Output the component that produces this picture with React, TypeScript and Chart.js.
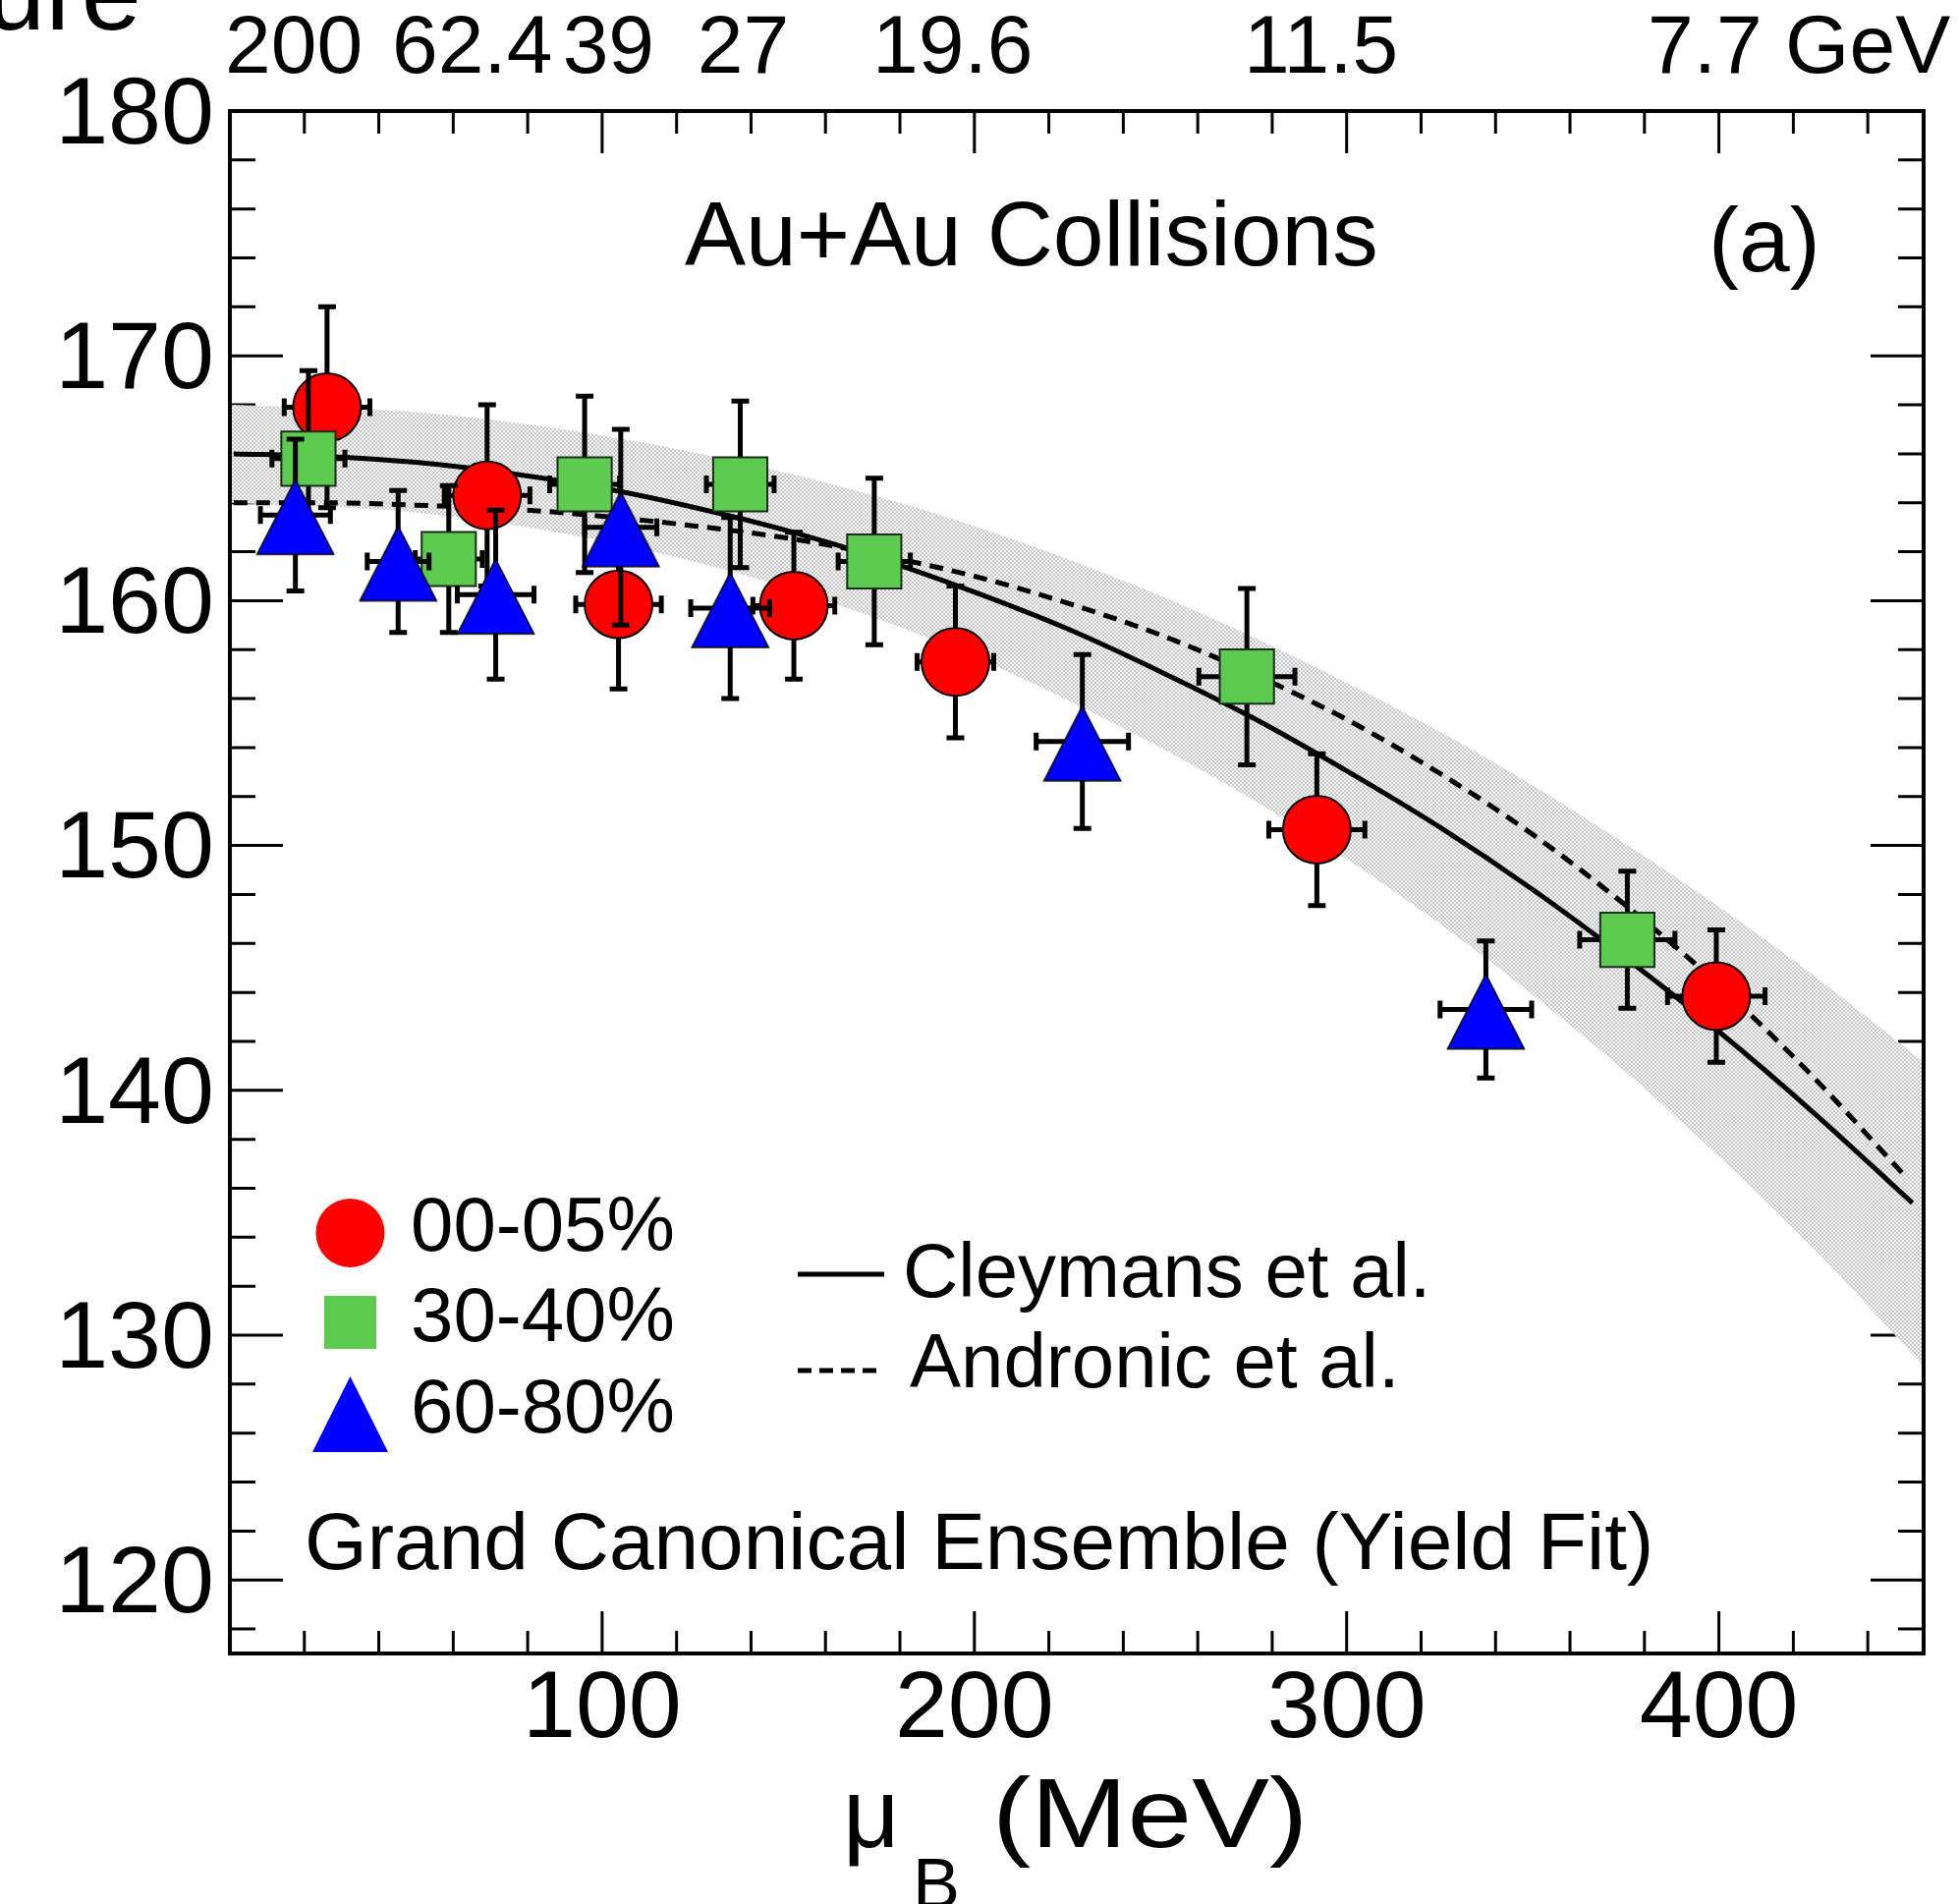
import React, { useEffect, useRef } from "react";
import { Chart, registerables } from "chart.js";

Chart.register(...registerables);

const FONT = "'Liberation Sans', Arial, Helvetica, sans-serif";
const W = 1994;
const H = 1938;

// Axis ranges and ticks
const MU_MIN = 0;
const MU_MAX = 455;
const T_MIN = 117;
const T_MAX = 180;
const muTicks = [100, 200, 300, 400];
const tTicks = [120, 130, 140, 150, 160, 170, 180];
const MU_MINOR_STEP = 20;
const T_MINOR_STEP = 2;

// Collision energies marked along the top axis
const energyMuB = [17.2, 65.1, 101.7, 137.9, 194.2, 293.1, 421.5];
const energyLabels = ["200", "62.4", "39", "27", "19.6", "11.5", "7.7 GeV"];

// Centrality 00-05%
const c0MuB = [26.1, 69.1, 104.4, 151.5, 194.9, 292.0, 399.3];
const c0T = [167.9, 164.3, 159.85, 159.8, 157.5, 150.65, 143.85];
const c0MuBErr = [11.5, 11.5, 11.5, 11.0, 10.3, 12.9, 13.1];
const c0TErr = [4.1, 3.7, 3.45, 3.0, 3.1, 3.1, 2.7];

// Centrality 30-40%
const c30MuB = [21.1, 58.8, 95.3, 137.1, 173.1, 273.2, 375.4];
const c30T = [165.8, 161.7, 164.75, 164.75, 161.6, 156.9, 146.15];
const c30MuBErr = [9.8, 9.0, 9.4, 9.1, 9.7, 12.9, 12.8];
const c30TErr = [3.6, 3.0, 3.6, 3.4, 3.4, 3.6, 2.8];

// Centrality 60-80%
const c60MuB = [17.6, 45.2, 71.4, 105.0, 134.4, 229.0, 337.4];
const c60T = [163.5, 161.6, 160.25, 163.0, 159.7, 154.25, 143.3];
const c60MuBErr = [9.4, 8.3, 10.3, 9.7, 10.6, 12.4, 12.3];
const c60TErr = [3.1, 2.9, 3.45, 4.0, 3.7, 3.55, 2.8];

// Cleymans et al. freeze-out curve
const cleyMuB = [1, 25, 50, 75, 100, 125, 150, 175, 200, 225, 250, 275, 300, 325, 350, 375, 400, 425, 452];
const cleyT = [166.0, 165.9, 165.65, 165.2, 164.6, 163.8, 162.85, 161.7, 160.35, 158.85, 157.1, 155.2, 153.05, 150.75, 148.2, 145.4, 142.4, 139.15, 135.4];

// Andronic et al. freeze-out curve
const andrMuB = [1, 25, 50, 75, 100, 125, 150, 175, 200, 225, 250, 275, 300, 325, 350, 375, 400, 425, 450];
const andrT = [164.0, 164.0, 163.9, 163.75, 163.45, 163.05, 162.55, 161.85, 161.0, 159.9, 158.6, 157.0, 155.15, 152.95, 150.45, 147.55, 144.3, 140.6, 136.5];

// Uncertainty band of the Cleymans curve
const bandMuB = [0, 50, 100, 150, 200, 250, 275, 300, 325, 350, 375, 400, 425, 455];
const bandHigh = [168.0, 167.7, 166.75, 165.2, 163.05, 160.2, 158.5, 156.65, 154.65, 152.45, 150.05, 147.5, 144.75, 141.15];
const bandLow = [164.0, 163.6, 162.45, 160.5, 157.7, 154.0, 151.85, 149.45, 146.8, 143.9, 140.75, 137.3, 133.6, 128.75];

const RED = "#ff0000";
const GREEN = "#5ccb50";
const BLUE = "#0000ff";

const pts = (xs: number[], ys: number[]) => xs.map((x, i) => ({ x, y: ys[i] }));

function makeTriangle(fill: string, stroke: string | null, w: number, up: number, down: number, lw: number) {
  const c = document.createElement("canvas");
  const half = Math.ceil(Math.max(up, down) + lw + 2);
  c.width = Math.ceil(w + 2 * lw + 4);
  c.height = 2 * half;
  const g = c.getContext("2d")!;
  const cx = c.width / 2;
  const cy = half;
  g.beginPath();
  g.moveTo(cx, cy - up);
  g.lineTo(cx + w / 2, cy + down);
  g.lineTo(cx - w / 2, cy + down);
  g.closePath();
  g.fillStyle = fill;
  g.fill();
  if (stroke) {
    g.lineWidth = lw;
    g.strokeStyle = stroke;
    g.lineJoin = "miter";
    g.stroke();
  }
  return c;
}

function makeStipple() {
  const c = document.createElement("canvas");
  c.width = 4;
  c.height = 4;
  const g = c.getContext("2d")!;
  g.fillStyle = "#f5f5f5";
  g.fillRect(0, 0, 4, 4);
  g.fillStyle = "#c9c9c9";
  g.fillRect(0, 0, 2, 2);
  g.fillRect(2, 2, 2, 2);
  return g.createPattern(c, "repeat")!;
}

// Error bars drawn just before each marker set
const errorBars = {
  id: "errorBars",
  beforeDatasetDraw(chart: any, args: any) {
    const ds: any = chart.data.datasets[args.index];
    if (!ds.errX) return;
    const xs = chart.scales.x;
    const ys = chart.scales.y;
    const ctx = chart.ctx;
    const cap = 9;
    ctx.save();
    ctx.strokeStyle = "#000";
    ctx.lineWidth = 5;
    ctx.lineCap = "butt";
    ds.data.forEach((p: any, i: number) => {
      const px = xs.getPixelForValue(p.x);
      const py = ys.getPixelForValue(p.y);
      const x0 = xs.getPixelForValue(p.x - ds.errX[i]);
      const x1 = xs.getPixelForValue(p.x + ds.errX[i]);
      const y0 = ys.getPixelForValue(p.y - ds.errY[i]);
      const y1 = ys.getPixelForValue(p.y + ds.errY[i]);
      ctx.beginPath();
      ctx.moveTo(px, y0);
      ctx.lineTo(px, y1);
      ctx.moveTo(x0, py);
      ctx.lineTo(x1, py);
      ctx.moveTo(px - cap, y0);
      ctx.lineTo(px + cap, y0);
      ctx.moveTo(px - cap, y1);
      ctx.lineTo(px + cap, y1);
      ctx.moveTo(x0, py - cap);
      ctx.lineTo(x0, py + cap);
      ctx.moveTo(x1, py - cap);
      ctx.lineTo(x1, py + cap);
      ctx.stroke();
    });
    ctx.restore();
  },
};

// Inward ticks on all four sides plus the frame
const frame = {
  id: "frame",
  beforeDraw(chart: any) {
    const ctx = chart.ctx;
    ctx.save();
    ctx.fillStyle = "#fff";
    ctx.fillRect(0, 0, chart.width, chart.height);
    ctx.restore();
  },
  beforeDatasetsDraw(chart: any) {
    const { ctx, chartArea: a } = chart;
    const xs = chart.scales.x;
    const ys = chart.scales.y;
    ctx.save();
    ctx.strokeStyle = "#000";
    ctx.lineWidth = 3;
    ctx.beginPath();
    for (let v = MU_MIN + MU_MINOR_STEP; v < MU_MAX; v += MU_MINOR_STEP) {
      const px = xs.getPixelForValue(v);
      const len = v % 100 === 0 ? 43 : 23;
      ctx.moveTo(px, a.bottom);
      ctx.lineTo(px, a.bottom - len);
      ctx.moveTo(px, a.top);
      ctx.lineTo(px, a.top + len);
    }
    for (let v = Math.ceil(T_MIN / T_MINOR_STEP) * T_MINOR_STEP; v < T_MAX; v += T_MINOR_STEP) {
      const py = ys.getPixelForValue(v);
      const len = v % 10 === 0 ? 54 : 26;
      ctx.moveTo(a.left, py);
      ctx.lineTo(a.left + len, py);
      ctx.moveTo(a.right, py);
      ctx.lineTo(a.right - len, py);
    }
    ctx.stroke();
    ctx.restore();
  },
  afterDatasetsDraw(chart: any) {
    const { ctx, chartArea: a } = chart;
    ctx.save();
    ctx.strokeStyle = "#000";
    ctx.lineWidth = 4;
    ctx.strokeRect(a.left, a.top, a.right - a.left, a.bottom - a.top);
    ctx.restore();
  },
};

// Labels, legend and axis title
const annotations = {
  id: "annotations",
  afterDraw(chart: any) {
    const ctx = chart.ctx;
    const tri = (chart as any).$legendTriangle as HTMLCanvasElement;
    ctx.save();
    ctx.fillStyle = "#000";
    ctx.textBaseline = "alphabetic";
    ctx.textAlign = "left";

    ctx.font = `110px ${FONT}`;
    ctx.fillText("ure", -15, 30);

    ctx.font = `93px ${FONT}`;
    ctx.fillText("Au+Au Collisions", 697, 270);
    ctx.fillText("(a)", 1739, 276);

    // centrality legend
    ctx.fillStyle = RED;
    ctx.beginPath();
    ctx.arc(356.5, 1255, 35, 0, Math.PI * 2);
    ctx.fill();
    ctx.fillStyle = GREEN;
    ctx.fillRect(330, 1319, 53, 54);
    if (tri) ctx.drawImage(tri, 356.5 - tri.width / 2, 1439 - tri.height / 2);

    ctx.fillStyle = "#000";
    ctx.font = `78px ${FONT}`;
    ctx.fillText("00-05%", 418, 1273);
    ctx.fillText("30-40%", 418, 1365);
    ctx.fillText("60-80%", 418, 1458);

    // model legend
    ctx.fillText("Cleymans et al.", 919, 1320);
    ctx.fillText("Andronic et al.", 926, 1412);
    ctx.strokeStyle = "#000";
    ctx.lineWidth = 5;
    ctx.beginPath();
    ctx.moveTo(812, 1297);
    ctx.lineTo(900, 1297);
    ctx.stroke();
    ctx.setLineDash([14, 8]);
    ctx.beginPath();
    ctx.moveTo(812, 1395);
    ctx.lineTo(900, 1395);
    ctx.stroke();
    ctx.setLineDash([]);

    ctx.font = `82px ${FONT}`;
    ctx.fillText("Grand Canonical Ensemble (Yield Fit)", 310, 1597);

    // axis title: mu_B (MeV)
    ctx.font = `100px ${FONT}`;
    ctx.fillText("\u03bc", 858, 1880);
    ctx.font = `72px ${FONT}`;
    ctx.fillText("B", 929, 1942);
    ctx.save();
    ctx.translate(1010, 1880);
    ctx.scale(1.18, 1);
    ctx.font = `100px ${FONT}`;
    ctx.fillText("(MeV)", 0, 0);
    ctx.restore();

    ctx.restore();
  },
};

const noSidePadding = (s: any) => {
  s.paddingLeft = 0;
  s.paddingRight = 0;
  s.paddingTop = 0;
  s.paddingBottom = 0;
};

export default function App() {
  const ref = useRef<HTMLCanvasElement>(null);

  useEffect(() => {
    document.body.style.margin = "0";
    const blueTri = makeTriangle(BLUE, "#000", 78, 36, 40, 1.5);
    const legendTri = makeTriangle(BLUE, null, 77, 38, 39, 0);
    const stipple = makeStipple();

    const tickFont = { family: FONT, size: 97, lineHeight: 1 };

    const chart = new Chart(ref.current!, {
      type: "scatter",
      data: {
        datasets: [
          {
            label: "band",
            data: pts(bandMuB, bandHigh),
            showLine: true,
            borderWidth: 0,
            borderColor: "rgba(0,0,0,0)",
            backgroundColor: stipple as any,
            pointRadius: 0,
            fill: "+1",
            cubicInterpolationMode: "monotone",
            order: 20,
          },
          {
            label: "band low",
            data: pts(bandMuB, bandLow),
            showLine: true,
            borderWidth: 0,
            borderColor: "rgba(0,0,0,0)",
            pointRadius: 0,
            fill: false,
            cubicInterpolationMode: "monotone",
            order: 21,
          },
          {
            label: "Andronic et al.",
            data: pts(andrMuB, andrT),
            showLine: true,
            borderColor: "#000",
            borderWidth: 5,
            borderDash: [14, 9],
            pointRadius: 0,
            fill: false,
            cubicInterpolationMode: "monotone",
            order: 11,
          },
          {
            label: "Cleymans et al.",
            data: pts(cleyMuB, cleyT),
            showLine: true,
            borderColor: "#000",
            borderWidth: 5,
            pointRadius: 0,
            fill: false,
            cubicInterpolationMode: "monotone",
            order: 10,
          },
          {
            label: "00-05%",
            data: pts(c0MuB, c0T),
            errX: c0MuBErr,
            errY: c0TErr,
            pointStyle: "circle",
            pointRadius: 34.5,
            backgroundColor: RED,
            borderColor: "#000",
            borderWidth: 2,
            order: 3,
          } as any,
          {
            label: "30-40%",
            data: pts(c30MuB, c30T),
            errX: c30MuBErr,
            errY: c30TErr,
            pointStyle: "rect",
            pointRadius: 39,
            backgroundColor: GREEN,
            borderColor: "#1c2c1c",
            borderWidth: 2,
            order: 2,
          } as any,
          {
            label: "60-80%",
            data: pts(c60MuB, c60T),
            errX: c60MuBErr,
            errY: c60TErr,
            pointStyle: blueTri,
            pointRadius: 38,
            backgroundColor: BLUE,
            order: 1,
          } as any,
        ],
      },
      options: {
        responsive: false,
        animation: false,
        devicePixelRatio: 1,
        events: [],
        layout: { autoPadding: false, padding: { left: 0, right: 36, top: 0, bottom: 0 } },
        plugins: {
          legend: { display: false },
          tooltip: { enabled: false },
        },
        scales: {
          x: {
            type: "linear",
            position: "bottom",
            min: MU_MIN,
            max: MU_MAX,
            grid: { display: false },
            border: { display: false },
            afterBuildTicks: (s: any) => {
              s.ticks = muTicks.map((value) => ({ value }));
            },
            afterFit: (s: any) => {
              s.height = 255;
              noSidePadding(s);
            },
            ticks: {
              font: tickFont,
              color: "#000",
              padding: 2,
              maxRotation: 0,
              autoSkip: false,
            },
          },
          xTop: {
            type: "linear",
            position: "top",
            min: MU_MIN,
            max: MU_MAX,
            grid: { display: false },
            border: { display: false },
            afterBuildTicks: (s: any) => {
              s.ticks = energyMuB.map((value) => ({ value }));
            },
            afterFit: (s: any) => {
              s.height = 113;
              noSidePadding(s);
            },
            ticks: {
              font: { family: FONT, size: 84, lineHeight: 1 },
              color: "#000",
              padding: 12,
              maxRotation: 0,
              autoSkip: false,
              callback: (_v: any, i: number) => energyLabels[i],
            },
          },
          y: {
            type: "linear",
            position: "left",
            min: T_MIN,
            max: T_MAX,
            grid: { display: false },
            border: { display: false },
            afterBuildTicks: (s: any) => {
              s.ticks = tTicks.map((value) => ({ value }));
            },
            afterFit: (s: any) => {
              s.width = 234;
              noSidePadding(s);
            },
            ticks: {
              font: tickFont,
              color: "#000",
              padding: 8,
              labelOffset: 6,
              autoSkip: false,
            },
          },
        },
      } as any,
      plugins: [frame, errorBars, annotations],
    });
    (chart as any).$legendTriangle = legendTri;
    chart.draw();

    return () => chart.destroy();
  }, []);

  return (
    <div style={{ width: W, height: H, background: "#fff" }}>
      <canvas ref={ref} width={W} height={H} style={{ display: "block", width: W, height: H }} />
    </div>
  );
}
